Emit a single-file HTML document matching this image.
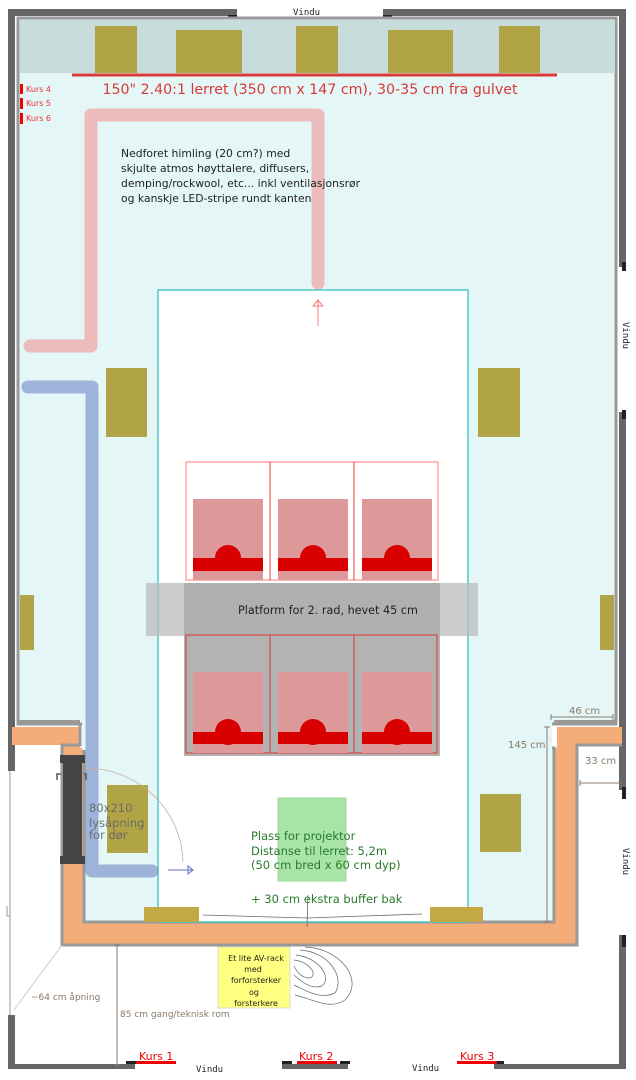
<!DOCTYPE html>
<html><head><meta charset="utf-8"><style>
html,body{margin:0;padding:0;background:#fff;}
svg{display:block;font-family:"DejaVu Sans","Liberation Sans",sans-serif;}
</style></head><body>
<svg width="636" height="1080" viewBox="0 0 636 1080" xmlns="http://www.w3.org/2000/svg">
<g fill="#666">
<rect x="8" y="9" width="229" height="7"/>
<rect x="383" y="9" width="243" height="7"/>
<rect x="8" y="9" width="7" height="762"/>
<rect x="619" y="9" width="7" height="258"/>
<rect x="619" y="412" width="7" height="378"/>
<rect x="619" y="935" width="7" height="133"/>
<rect x="8" y="1015" width="7" height="53"/>
<rect x="8" y="1064" width="127" height="5"/>
<rect x="282" y="1064" width="66" height="5"/>
<rect x="494" y="1064" width="132" height="5"/>
</g>
<g fill="#222">
<rect x="228" y="15" width="9" height="3"/><rect x="383" y="15" width="9" height="3"/>
<rect x="622" y="262" width="4" height="9"/><rect x="622" y="410" width="4" height="9"/>
<rect x="622" y="787" width="4" height="12"/><rect x="622" y="935" width="4" height="12"/>
<rect x="126" y="1061" width="10" height="3"/><rect x="282" y="1061" width="10" height="3"/><rect x="340" y="1061" width="10" height="3"/><rect x="494" y="1061" width="10" height="3"/>
</g>
<line x1="10" y1="771" x2="10" y2="1015" stroke="#999" stroke-width="1"/>
<path d="M7,906 v10 h3" fill="none" stroke="#999" stroke-width="1"/>
<rect x="18" y="18" width="598" height="706" fill="#e4f6f6" stroke="#999" stroke-width="3"/>
<rect x="20" y="20" width="595" height="53" fill="#c8dcdc"/>
<path d="M12,727 H80 V748 H84 V922 H554 V748 H557 V727 H622 V745 H577 V945 H62 V745 H12 Z" fill="#f4ac78"/>
<path d="M80,724 V745 H62 V945 H577 V745 H622" fill="none" stroke="#999" stroke-width="3"/>
<rect x="18" y="720" width="62" height="4" fill="#999"/>
<rect x="554" y="720" width="62" height="4" fill="#999"/>
<rect x="84" y="748" width="470" height="174" fill="#e4f6f6" stroke="#999" stroke-width="3"/>
<rect x="82" y="720" width="470" height="30" fill="#e4f6f6"/>
<rect x="158" y="290" width="310" height="632" fill="#fff" stroke="#4cc8c8" stroke-width="1.5"/>
<g fill="#b0a446">
<rect x="95" y="26" width="42" height="47"/><rect x="176" y="30" width="66" height="43"/>
<rect x="296" y="26" width="42" height="47"/><rect x="388" y="30" width="65" height="43"/>
<rect x="499" y="26" width="41" height="47"/>
<rect x="106" y="368" width="41" height="69"/><rect x="478" y="368" width="42" height="69"/>
<rect x="20" y="595" width="14" height="55"/><rect x="600" y="595" width="14" height="55"/>
<rect x="107" y="785" width="41" height="68"/><rect x="480" y="794" width="41" height="58"/>
<rect x="144" y="907" width="55" height="15" fill="#c4a844"/><rect x="430" y="907" width="53" height="15" fill="#c4a844"/>
</g>
<line x1="72" y1="75" x2="557" y2="75" stroke="#d83a3a" stroke-width="3"/>
<text x="310" y="94" font-size="14.2" fill="#d83a3a" text-anchor="middle">150" 2.40:1 lerret (350 cm x 147 cm),  30-35 cm fra gulvet</text>
<g fill="#e00"><rect x="20" y="84" width="3" height="10"/><rect x="20" y="98" width="3" height="11"/><rect x="20" y="113" width="3" height="11"/></g>
<g font-size="8" fill="#e33"><text x="26" y="92">Kurs 4</text><text x="26" y="106">Kurs 5</text><text x="26" y="121">Kurs 6</text></g>
<path d="M30,346 H91 V115 H318 V283" fill="none" stroke="#f28a8a" stroke-opacity="0.55" stroke-width="13" stroke-linecap="round" stroke-linejoin="round"/>
<path d="M28,387 H92 V871 H152" fill="none" stroke="#6f87c8" stroke-opacity="0.6" stroke-width="13" stroke-linecap="round" stroke-linejoin="round"/>
<path d="M318,300 V326 M313,306 L318,300 L323,306 Z" fill="none" stroke="#f77" stroke-width="1"/>
<text font-size="10.8" fill="#222"><tspan x="121" y="157">Nedforet himling (20 cm?) med</tspan><tspan x="121" y="172">skjulte atmos høyttalere, diffusers,</tspan><tspan x="121" y="187">demping/rockwool, etc... inkl ventilasjonsrør</tspan><tspan x="121" y="202">og kanskje LED-stripe rundt kanten</tspan></text>
<rect x="186" y="462" width="252" height="118" fill="#fff" stroke="#f77" stroke-width="1"/>
<line x1="270" y1="462" x2="270" y2="580" stroke="#e33"/><line x1="354" y1="462" x2="354" y2="580" stroke="#e33"/>
<g fill="#d99"><rect x="193" y="499" width="70" height="81"/><rect x="278" y="499" width="70" height="81"/><rect x="362" y="499" width="70" height="81"/></g>
<g fill="#d80000"><rect x="193" y="558" width="70" height="13"/><rect x="278" y="558" width="70" height="13"/><rect x="362" y="558" width="70" height="13"/>
<circle cx="228" cy="558" r="13"/><circle cx="313" cy="558" r="13"/><circle cx="397" cy="558" r="13"/></g>
<rect x="146" y="583" width="332" height="53" fill="#bbb" opacity="0.75"/>
<rect x="184" y="583" width="256" height="53" fill="#b0b0b0"/>
<text x="238" y="614" font-size="11.2" fill="#222">Platform for 2. rad, hevet 45 cm</text>
<rect x="184" y="635" width="256" height="121" fill="#b3b3b3"/>
<rect x="186" y="635" width="251" height="118" fill="none" stroke="#d33"/>
<line x1="270" y1="635" x2="270" y2="753" stroke="#d33"/><line x1="354" y1="635" x2="354" y2="753" stroke="#d33"/>
<g fill="#d99"><rect x="193" y="672" width="70" height="81"/><rect x="278" y="672" width="70" height="81"/><rect x="362" y="672" width="70" height="81"/></g>
<g fill="#d80000"><rect x="193" y="732" width="70" height="12"/><rect x="278" y="732" width="70" height="12"/><rect x="362" y="732" width="70" height="12"/>
<circle cx="228" cy="732" r="13"/><circle cx="313" cy="732" r="13"/><circle cx="397" cy="732" r="13"/></g>
<rect x="278" y="798" width="68" height="83" fill="#a8e4a8" stroke="#9d9"/>
<text font-size="11.5" fill="#2a7a2a"><tspan x="251" y="840">Plass for projektor</tspan><tspan x="251" y="855">Distanse til lerret: 5,2m</tspan><tspan x="251" y="869">(50 cm bred x 60 cm dyp)</tspan><tspan x="251" y="903">+ 30 cm ekstra buffer bak</tspan></text>
<path d="M203,915 L307,918 L422,914 M307,927 L308,895" fill="none" stroke="#666" stroke-width="0.8"/>
<g fill="#444"><rect x="63" y="755" width="19" height="107"/><rect x="60" y="755" width="25" height="8"/><rect x="60" y="856" width="25" height="8"/></g>
<path d="M57,780 v-6 h4 M84,774 h2 v6" fill="none" stroke="#555" stroke-width="1.5"/>
<path d="M85,768 A98,96 0 0 1 183,862" fill="none" stroke="#c9b0a0" stroke-width="0.8"/>
<text font-size="11.5" fill="#666" fill-opacity="0.9"><tspan x="89" y="812">80x210</tspan><tspan x="89" y="827">lysåpning</tspan><tspan x="89" y="839">for dør</tspan></text>
<path d="M168,870 H193 M188,866 L193,870 L188,874 Z" fill="none" stroke="#5a70c0" stroke-width="1"/>
<g stroke="#8a7a6a" stroke-width="1" fill="none">
<path d="M551,717 H613 M551,714 v6 M613,714 v6"/>
<path d="M547,727 V922 M544,727 h6 M544,922 h6"/>
<path d="M580,783 H622 M580,780 v6"/>
<path d="M117,945 V1065 M114,945 h6 M114,1065 h6"/>
<path d="M14,1010 L62,945" stroke="#ccc"/>
</g>
<g font-size="10" fill="#8a7a6a"><text x="569" y="714">46 cm</text><text x="508" y="748">145 cm</text><text x="585" y="764">33 cm</text>
<text x="31" y="1000" font-size="9">~64 cm åpning</text><text x="120" y="1017" font-size="9">85 cm gang/teknisk rom</text></g>
<rect x="218" y="947" width="72" height="61" fill="#ffff80" stroke="#ddc"/>
<text font-size="8" fill="#222" text-anchor="middle"><tspan x="256" y="961">Et lite AV-rack</tspan><tspan x="253" y="972">med</tspan><tspan x="256" y="983">forforsterker</tspan><tspan x="254" y="995">og</tspan><tspan x="256" y="1006">forsterkere</tspan></text>
<g fill="none" stroke="#666" stroke-width="0.7">
<path d="M305,947 C340,948 365,980 345,1000 C330,1010 315,1000 295,995"/>
<path d="M300,950 C330,952 345,978 335,993 C320,1000 305,990 294,985"/>
<path d="M296,955 C320,958 332,978 322,986 C310,990 300,980 294,975"/>
<path d="M294,960 C310,962 318,975 310,978 C300,978 296,970 294,966"/>
</g>
<g fill="#e00" font-size="11"><text x="139" y="1060">Kurs 1</text><text x="299" y="1060">Kurs 2</text><text x="460" y="1060">Kurs 3</text></g>
<g fill="#e00"><rect x="136" y="1061" width="40" height="3"/><rect x="297" y="1061" width="40" height="3"/><rect x="457" y="1061" width="40" height="3"/></g>
<g font-family="'DejaVu Sans Mono','Liberation Mono',monospace" font-size="9" fill="#222">
<text x="293" y="15">Vindu</text>
<text x="196" y="1072">Vindu</text><text x="412" y="1071">Vindu</text>
<text transform="translate(623,322) rotate(90)">Vindu</text>
<text transform="translate(623,848) rotate(90)">Vindu</text>
</g>
</svg>
</body></html>
